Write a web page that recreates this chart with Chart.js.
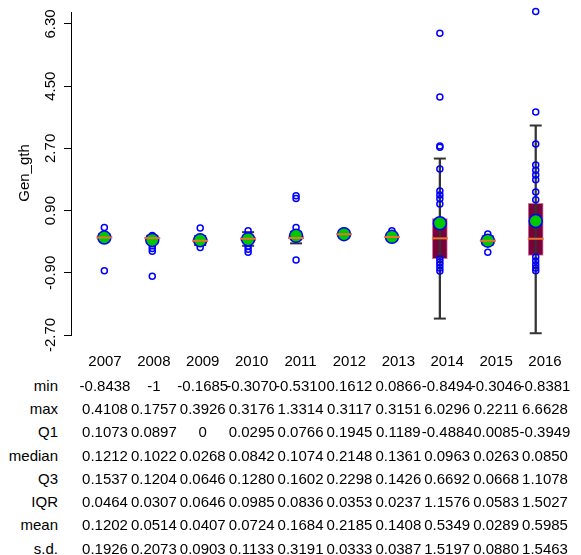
<!DOCTYPE html>
<html>
<head>
<meta charset="utf-8">
<script src="https://cdn.jsdelivr.net/npm/chart.js@4.4.0/dist/chart.umd.min.js"></script>
<style>
  html, body { margin: 0; padding: 0; background: #fff; }
  #wrap { position: relative; width: 581px; height: 555px; overflow: hidden; font-family: "Liberation Sans", Arial, sans-serif; }
  #box { position: absolute; left: 0; top: 0; width: 581px; height: 360px; }
  .cell { position: absolute; font-size: 15px; line-height: 18px; color: #000; white-space: nowrap; }
</style>
</head>
<body>
<div id="wrap">
  <div id="box"><canvas id="grafico"></canvas></div>
  <div id="tabela"></div>
</div>
<script>
// dados
const years = ['2007', '2008', '2009', '2010', '2011', '2012', '2013', '2014', '2015', '2016'];
const minVals    = [-0.8438, -1, -0.1685, -0.3070, -0.5310, 0.1612, 0.0866, -0.8494, -0.3046, -0.8381];
const maxVals    = [0.4108, 0.1757, 0.3926, 0.3176, 1.3314, 0.3117, 0.3151, 6.0296, 0.2211, 6.6628];
const q1Vals     = [0.1073, 0.0897, 0, 0.0295, 0.0766, 0.1945, 0.1189, -0.4884, 0.0085, -0.3949];
const medianVals = [0.1212, 0.1022, 0.0268, 0.0842, 0.1074, 0.2148, 0.1361, 0.0963, 0.0263, 0.0850];
const q3Vals     = [0.1537, 0.1204, 0.0646, 0.1280, 0.1602, 0.2298, 0.1426, 0.6692, 0.0668, 1.1078];
const iqrVals    = [0.0464, 0.0307, 0.0646, 0.0985, 0.0836, 0.0353, 0.0237, 1.1576, 0.0583, 1.5027];
const meanVals   = [0.1202, 0.0514, 0.0407, 0.0724, 0.1684, 0.2185, 0.1408, 0.5349, 0.0289, 0.5985];
const sdVals     = [0.1926, 0.2073, 0.0903, 0.1133, 0.3191, 0.0333, 0.0387, 1.5197, 0.0880, 1.5463];

// bigodes (Q1 - 1.5 IQR, Q3 + 1.5 IQR)
const whiskerLo = [0.0377, 0.0437, -0.0969, -0.1183, -0.0488, 0.1416, 0.0834, -2.2248, -0.0790, -2.6490];
const whiskerHi = [0.2233, 0.1665, 0.1615, 0.2758, 0.2856, 0.2828, 0.1782, 2.4056, 0.1543, 3.3619];

// pontos (circulos azuis) por ano
const outliers = [
    [0.4108, -0.8438],
    [0.1757, -0.12, -0.20, -0.28, -1],
    [0.3926, -0.1685],
    [0.3176, -0.13, -0.22, -0.307],
    [1.3314, 1.25, 0.41, -0.5310],
    [0.3117],
    [0.3151],
    [6.0296, 4.19, 2.77, 2.73, 2.10, 1.47, 1.35, 1.24, 1.09, -0.50, -0.59, -0.67, -0.76, -0.8494],
    [0.2211, -0.3046],
    [6.6628, 3.75, 2.83, 2.22, 2.07, 1.93, 1.79, 1.44, 1.21, -0.44, -0.56, -0.67, -0.76, -0.8381]
];

const yTicks = [-2.70, -0.90, 0.90, 2.70, 4.50, 6.30];
const yTitle = 'Gen_gth';

const rowNames = ['min', 'max', 'Q1', 'median', 'Q3', 'IQR', 'mean', 's.d.'];
const rowData = [minVals, maxVals, q1Vals, medianVals, q3Vals, iqrVals, meanVals, sdVals];

const FONT = '"Liberation Sans", Arial, sans-serif';

const porAno = arr => arr.map((v, i) => ({ x: i + 1, y: v }));

const eixoY = {
    id: 'eixoY',
    afterDraw(chart) {
        const ctx = chart.ctx;
        const s = chart.scales.y;
        ctx.save();
        ctx.fillStyle = '#000';
        ctx.font = '15px ' + FONT;
        ctx.textAlign = 'center';
        ctx.textBaseline = 'alphabetic';
        yTicks.forEach(v => {
            ctx.save();
            ctx.translate(55, s.getPixelForValue(v));
            ctx.rotate(-Math.PI / 2);
            ctx.fillText(v.toFixed(2), 0, 0);
            ctx.restore();
        });
        ctx.translate(29, 173);
        ctx.rotate(-Math.PI / 2);
        ctx.fillText(yTitle, 0, 0);
        ctx.restore();
    }
};

const ctx = document.getElementById('grafico').getContext('2d');
new Chart(ctx, {
    type: 'bar',
    data: {
        datasets: [
            {
                label: 'box',
                data: q1Vals.map((q, i) => ({ x: i + 1, y: [q, q3Vals[i]] })),
                backgroundColor: '#7a003c',
                borderColor: '#c9799e',
                borderWidth: 1,
                borderSkipped: false,
                barThickness: 15,
                grouped: false,
                order: 6
            },
            {
                label: 'whisker',
                data: whiskerLo.map((lo, i) => ({ x: i + 1, y: [lo, whiskerHi[i]] })),
                backgroundColor: '#333',
                borderWidth: 0,
                barThickness: 1.6,
                grouped: false,
                order: 5
            },
            {
                type: 'scatter',
                label: 'caps',
                data: porAno(whiskerLo).concat(porAno(whiskerHi)),
                pointStyle: 'line',
                pointRadius: 6,
                borderWidth: 2,
                borderColor: '#333',
                order: 4
            },
            {
                type: 'scatter',
                label: 'pontos',
                data: outliers.flatMap((vals, i) => vals.map(v => ({ x: i + 1, y: v }))),
                pointRadius: 3,
                borderWidth: 1.5,
                borderColor: '#0000ff',
                backgroundColor: 'rgba(0,0,0,0)',
                order: 3
            },
            {
                type: 'scatter',
                label: 'mean',
                data: porAno(meanVals),
                pointRadius: 6.5,
                borderWidth: 1.5,
                borderColor: '#0000ff',
                backgroundColor: '#00c800',
                order: 2
            },
            {
                type: 'scatter',
                label: 'median',
                data: porAno(medianVals),
                pointStyle: 'line',
                pointRadius: 8,
                borderWidth: 2,
                borderColor: '#e8762b',
                order: 1
            }
        ]
    },
    options: {
        responsive: true,
        maintainAspectRatio: false,
        animation: false,
        clip: false,
        layout: { padding: { top: 12, bottom: 25, left: 0, right: 0 } },
        plugins: { legend: { display: false }, tooltip: { enabled: false } },
        scales: {
            x: {
                type: 'linear',
                display: false,
                offset: false,
                min: 0.3046,
                max: 10.736
            },
            y: {
                type: 'linear',
                min: -2.70,
                max: 6.646,
                afterBuildTicks: s => { s.ticks = yTicks.map(v => ({ value: v })); },
                afterFit: s => { s.width = 71; },
                ticks: { display: false },
                grid: { display: true, drawOnChartArea: false, drawTicks: true, tickLength: 7, color: '#000', lineWidth: 1 },
                border: { display: true, color: '#000', width: 1 }
            }
        }
    },
    plugins: [eixoY]
});

// tabela de estatisticas
function fmt(v) {
    return Number.isInteger(v) ? String(v) : v.toFixed(4);
}
const tabela = document.getElementById('tabela');
function cell(text, left, top, width, align) {
    const d = document.createElement('div');
    d.className = 'cell';
    d.textContent = text;
    d.style.left = left + 'px';
    d.style.top = top + 'px';
    d.style.width = width + 'px';
    d.style.textAlign = align;
    tabela.appendChild(d);
}
const colX = i => 105 + 48.89 * i;
years.forEach((y, i) => cell(y, colX(i) - 30, 360.5 - 9, 60, 'center'));
rowNames.forEach((nome, r) => {
    const top = 385.7 + 23.29 * r - 9;
    cell(nome, 0, top, 58, 'right');
    rowData[r].forEach((v, i) => cell(fmt(v), colX(i) - 30, top, 60, 'center'));
});
</script>
</body>
</html>
